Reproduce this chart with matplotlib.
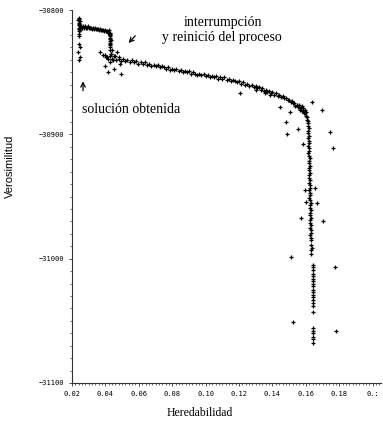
import matplotlib.pyplot as plt
from matplotlib.ticker import MultipleLocator

# cluster where the solution was reached (top left)
start_pts = [(0.0240, -30806), (0.0243, -30807), (0.0238, -30808), (0.0245, -30809),
             (0.0241, -30810), (0.0244, -30811), (0.0239, -30812), (0.0246, -30813),
             (0.0242, -30814), (0.0240, -30815), (0.0245, -30816), (0.0243, -30817),
             (0.0241, -30819), (0.0244, -30821), (0.0240, -30827), (0.0247, -30830),
             (0.0237, -30834), (0.0246, -30838), (0.0242, -30840)]

# flat part before the interruption
plateau_pts = [(0.0250, -30813), (0.0256, -30813), (0.0262, -30814), (0.0268, -30813),
               (0.0274, -30814), (0.0280, -30813), (0.0286, -30814), (0.0292, -30814),
               (0.0298, -30813), (0.0304, -30814), (0.0310, -30814), (0.0316, -30814),
               (0.0322, -30815), (0.0328, -30814), (0.0334, -30815), (0.0340, -30814),
               (0.0346, -30815), (0.0352, -30815), (0.0358, -30815), (0.0364, -30816),
               (0.0370, -30815), (0.0376, -30816), (0.0382, -30816), (0.0388, -30816),
               (0.0394, -30817), (0.0400, -30816), (0.0406, -30817), (0.0412, -30817),
               (0.0418, -30818), (0.0422, -30818)]

# restart of the process
restart_pts = [(0.0424, -30816), (0.0428, -30818), (0.0426, -30819), (0.0430, -30820),
               (0.0425, -30821), (0.0429, -30822), (0.0427, -30823), (0.0431, -30824),
               (0.0426, -30825), (0.0428, -30826), (0.0430, -30827), (0.0427, -30828),
               (0.0425, -30830), (0.0429, -30832), (0.0432, -30835),
               (0.0385, -30836), (0.0403, -30838), (0.0415, -30839), (0.0433, -30835),
               (0.0445, -30840), (0.0457, -30837), (0.0469, -30834), (0.0481, -30839),
               (0.0427, -30842), (0.0397, -30845), (0.0487, -30843), (0.0415, -30850),
               (0.0493, -30851), (0.0451, -30847), (0.0367, -30834), (0.0439, -30832)]

# main descending curve
curve_pts = [(0.0400, -30836), (0.0412, -30838), (0.0425, -30837), (0.0440, -30839),
             (0.0452, -30837), (0.0465, -30840), (0.0480, -30838), (0.0492, -30841),
             (0.0505, -30839), (0.0518, -30841), (0.0530, -30840), (0.0545, -30842),
             (0.0558, -30840), (0.0570, -30842), (0.0585, -30841), (0.0598, -30843),
             (0.0610, -30842), (0.0625, -30843), (0.0638, -30842), (0.0650, -30844),
             (0.0662, -30843), (0.0675, -30845), (0.0688, -30844), (0.0700, -30845),
             (0.0712, -30844), (0.0725, -30846), (0.0738, -30845), (0.0750, -30846),
             (0.0762, -30847), (0.0775, -30846), (0.0788, -30848), (0.0800, -30847),
             (0.0812, -30848), (0.0825, -30847), (0.0838, -30849), (0.0850, -30848),
             (0.0862, -30850), (0.0875, -30849), (0.0888, -30850), (0.0900, -30849),
             (0.0912, -30851), (0.0925, -30850), (0.0938, -30851), (0.0950, -30852),
             (0.0962, -30851), (0.0975, -30852), (0.0988, -30851), (0.1000, -30853),
             (0.1012, -30852), (0.1025, -30854), (0.1038, -30853), (0.1050, -30854),
             (0.1062, -30853), (0.1075, -30855), (0.1088, -30854), (0.1100, -30855),
             (0.1112, -30854), (0.1125, -30856), (0.1138, -30855), (0.1150, -30857),
             (0.1162, -30856), (0.1175, -30857), (0.1188, -30858), (0.1200, -30857),
             (0.1212, -30859), (0.1225, -30858), (0.1238, -30860), (0.1250, -30859),
             (0.1262, -30861), (0.1275, -30860), (0.1288, -30862), (0.1300, -30861),
             (0.1310, -30863), (0.1320, -30862), (0.1330, -30864), (0.1340, -30863),
             (0.1350, -30865), (0.1360, -30864), (0.1370, -30866), (0.1380, -30865),
             (0.1390, -30867), (0.1400, -30866), (0.1410, -30868), (0.1420, -30867),
             (0.1430, -30869), (0.1440, -30868), (0.1450, -30870), (0.1460, -30869),
             (0.1470, -30871), (0.1480, -30871), (0.1490, -30872), (0.1500, -30872),
             (0.1508, -30874), (0.1515, -30873), (0.1522, -30875), (0.1530, -30875),
             (0.1537, -30877), (0.1545, -30876), (0.1552, -30878), (0.1560, -30878),
             (0.1566, -30880), (0.1572, -30879), (0.1578, -30881), (0.1584, -30881),
             (0.1590, -30883), (0.1595, -30883), (0.1600, -30885), (0.1604, -30886),
             (0.1607, -30888), (0.1610, -30889), (0.1612, -30891), (0.1575, -30877),
             (0.1585, -30879), (0.1595, -30880), (0.1560, -30876), (0.1602, -30882)]

# near vertical drop at h2 ~ 0.162
drop_pts = [(0.1612, -30893), (0.1616, -30895), (0.1610, -30897), (0.1614, -30899),
            (0.1618, -30901), (0.1613, -30903), (0.1616, -30905), (0.1620, -30907),
            (0.1614, -30909), (0.1617, -30911), (0.1621, -30913), (0.1615, -30915),
            (0.1618, -30917), (0.1622, -30919), (0.1616, -30921), (0.1619, -30923),
            (0.1623, -30925), (0.1617, -30927), (0.1620, -30929), (0.1624, -30931),
            (0.1618, -30933), (0.1621, -30935), (0.1625, -30937), (0.1619, -30939),
            (0.1622, -30941), (0.1626, -30943), (0.1620, -30945), (0.1623, -30947),
            (0.1627, -30949), (0.1621, -30951), (0.1624, -30953), (0.1628, -30955),
            (0.1622, -30957), (0.1625, -30959), (0.1629, -30961), (0.1623, -30963),
            (0.1626, -30965), (0.1630, -30967), (0.1624, -30969), (0.1627, -30971),
            (0.1631, -30973), (0.1625, -30975), (0.1628, -30977), (0.1632, -30979),
            (0.1626, -30981), (0.1629, -30983), (0.1633, -30985), (0.1630, -30989),
            (0.1634, -30991), (0.1631, -30993), (0.1633, -30996)]

tail_pts = [(0.1640, -31005), (0.1641, -31007), (0.1642, -31009), (0.1641, -31012),
            (0.1642, -31014), (0.1641, -31016), (0.1643, -31018), (0.1642, -31020),
            (0.1641, -31022), (0.1643, -31025), (0.1642, -31027), (0.1643, -31029),
            (0.1642, -31031), (0.1643, -31033), (0.1644, -31036), (0.1643, -31038),
            (0.1643, -31043), (0.1642, -31056), (0.1643, -31058), (0.1642, -31060),
            (0.1643, -31063), (0.1642, -31065), (0.1643, -31068)]

outlier_pts = [(0.1205, -30867), (0.1300, -30864), (0.1354, -30867), (0.1384, -30868),
               (0.1444, -30878), (0.1504, -30882), (0.1635, -30874), (0.1695, -30880),
               (0.1480, -30890), (0.1486, -30900), (0.1551, -30896), (0.1743, -30898),
               (0.1761, -30911), (0.1581, -30908), (0.1593, -30945), (0.1653, -30943),
               (0.1569, -30967), (0.1701, -30970), (0.1599, -30954), (0.1665, -30955),
               (0.1510, -30999), (0.1773, -31007), (0.1522, -31051), (0.1779, -31058)]

x_ticks = [0.02, 0.04, 0.06, 0.08, 0.10, 0.12, 0.14, 0.16, 0.18, 0.20]
x_ticklabels = ['0.02', '0.04', '0.06', '0.08', '0.10', '0.12', '0.14', '0.16', '0.18', '0.:']
y_ticks = [-31100, -31000, -30900, -30800]

fig = plt.figure(figsize=(3.83, 4.25), dpi=100)
ax = fig.add_axes([0.188, 0.099, 0.807, 0.877])

for pts in [start_pts, plateau_pts, restart_pts, curve_pts, drop_pts, tail_pts, outlier_pts]:
    xs = [p[0] for p in pts]
    ys = [p[1] for p in pts]
    ax.plot(xs, ys, '+', color='black', markersize=2.6, markeredgewidth=0.9)

ax.set_xlim(0.02, 0.205)
ax.set_ylim(-31100, -30800)
ax.spines['top'].set_visible(False)
ax.spines['right'].set_visible(False)
for s in ['left', 'bottom']:
    ax.spines[s].set_linewidth(0.8)
    ax.spines[s].set_color('#333333')

ax.set_xticks(x_ticks)
ax.set_xticklabels(x_ticklabels)
ax.set_yticks(y_ticks)
ax.xaxis.set_minor_locator(MultipleLocator(0.002))
ax.yaxis.set_minor_locator(MultipleLocator(10))
ax.tick_params(which='major', length=2.5, width=0.6, color='#333333', pad=3,
               labelsize=5)
ax.tick_params(which='minor', length=1.2, width=0.5, color='#333333')
for lab in ax.get_xticklabels() + ax.get_yticklabels():
    lab.set_family('DejaVu Sans Mono')

ax.set_xlabel('Heredabilidad', family='Liberation Serif', fontsize=8.5)
ax.xaxis.set_label_coords(0.414, -0.064)
ax.set_ylabel('Verosimilitud', family='Liberation Sans', fontsize=8)
ax.yaxis.set_label_coords(-0.184, 0.58)

ax.text(0.1105, -30810, 'interrumpción', family='Liberation Serif', fontsize=10,
        ha='center', va='center')
ax.text(0.1095, -30822, 'y reinició del proceso', family='Liberation Serif', fontsize=10,
        ha='center', va='center')
ax.annotate('', xy=(0.0527, -30828), xytext=(0.0590, -30819),
            arrowprops=dict(arrowstyle='->', lw=0.9, color='black',
                            mutation_scale=8))
ax.annotate('', xy=(0.0266, -30855), xytext=(0.0266, -30867),
            arrowprops=dict(arrowstyle='->', lw=0.9, color='black',
                            mutation_scale=8))
ax.text(0.0262, -30880, 'solución obtenida', family='Liberation Serif', fontsize=10,
        ha='left', va='center')

fig.savefig('out.png', dpi=100)
